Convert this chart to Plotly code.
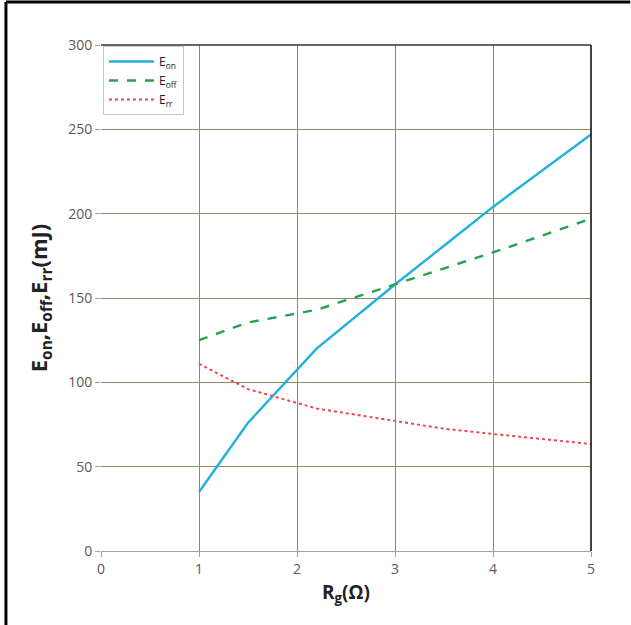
import plotly.graph_objects as go

rg_on = [1, 1.5, 2.2, 3, 3.5, 4, 5]
e_on = [35, 76, 120, 158, 181, 204, 247]
rg_off = [1, 1.5, 2.2, 3, 4, 5]
e_off = [125, 135.5, 143, 158, 177, 197]
rg_rr = [1, 1.5, 2.2, 3, 3.5, 4, 5]
e_rr = [111, 96, 84.5, 77, 72.5, 69.4, 63.4]

x_ticks = [0, 1, 2, 3, 4, 5]
y_ticks = [0, 50, 100, 150, 200, 250, 300]

fig = go.Figure()
fig.add_trace(go.Scatter(x=rg_on, y=e_on, mode="lines", name="E<sub>on</sub>",
                         line=dict(color="#22B0E0", width=2.4, dash="solid")))
fig.add_trace(go.Scatter(x=rg_off, y=e_off, mode="lines", name="E<sub>off</sub>",
                         line=dict(color="#27A04F", width=2.4, dash="dash")))
fig.add_trace(go.Scatter(x=rg_rr, y=e_rr, mode="lines", name="E<sub>rr</sub>",
                         line=dict(color="#F0404A", width=1.9, dash="dot")))

grid_c = "#8E8A62"
fig.update_layout(
    width=631, height=625,
    margin=dict(l=101, r=40, t=45, b=74),
    paper_bgcolor="white", plot_bgcolor="white",
    font=dict(family="Open Sans, Liberation Sans, sans-serif", color="#595959"),
    showlegend=True,
    legend=dict(x=0.004, y=0.998, xanchor="left", yanchor="top",
                bgcolor="white", bordercolor="#C8C8C8", borderwidth=1,
                font=dict(size=12, color="#222"), tracegroupgap=0,
                itemwidth=45),
    xaxis=dict(range=[0, 5], tickvals=x_ticks, showgrid=True, gridcolor=grid_c,
               gridwidth=1, zeroline=False, showline=True, linecolor="#A0A0A0",
               ticks="outside", ticklen=5, tickcolor="#A0A0A0",
               tickfont=dict(size=14, color="#595959"),
               title=dict(text="<b>R<sub>g</sub>(Ω)</b>", font=dict(size=19, color="#222"), standoff=8)),
    yaxis=dict(range=[0, 300], tickvals=y_ticks, showgrid=True, gridcolor=grid_c,
               gridwidth=1, zeroline=False, showline=False,
               ticks="outside", ticklen=5, tickcolor="#A0A0A0",
               tickfont=dict(size=14, color="#595959"),
               title=dict(text="<b>E<sub>on</sub>,E<sub>off</sub>,E<sub>rr</sub>(mJ)</b>",
                          font=dict(size=22, color="#222"), standoff=14)),
    shapes=[
        dict(type="line", xref="paper", yref="paper", x0=1, x1=1, y0=0, y1=1,
             line=dict(color="black", width=1.5)),
        dict(type="line", xref="paper", yref="paper", x0=0, x1=1, y0=1, y1=1,
             line=dict(color="#333", width=1.5)),
        dict(type="line", xref="paper", yref="paper", x0=-0.194, x1=1.08, y0=1.085, y1=1.085,
             line=dict(color="black", width=3)),
        dict(type="line", xref="paper", yref="paper", x0=-0.194, x1=-0.194, y0=1.085, y1=-0.15,
             line=dict(color="black", width=3)),
    ],
)

fig.write_html("out.html", config={"displayModeBar": False},
               post_script="document.body.style.margin='0px';")
